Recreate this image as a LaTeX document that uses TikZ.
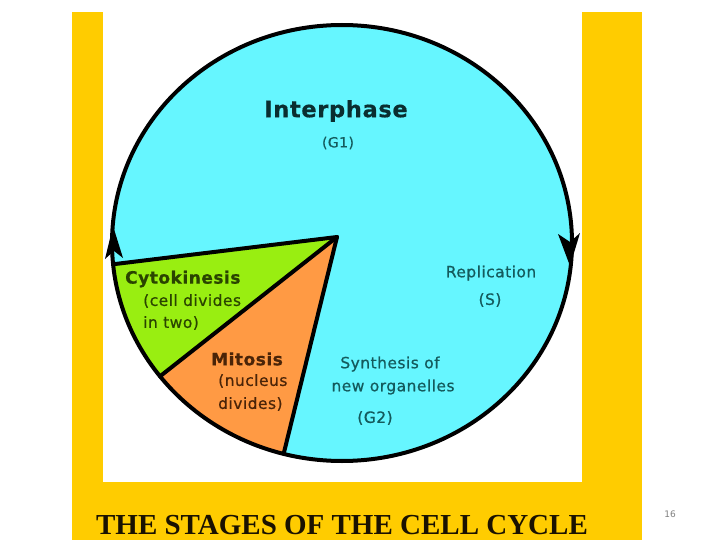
\documentclass[tikz,border=0pt]{standalone}
\usepackage{fontspec}
\setmainfont{Liberation Serif}
\newfontfamily\lblfont[FakeBold=0.6,LetterSpace=3]{DejaVu Sans}
\newfontfamily\plainfont{DejaVu Sans}
\definecolor{slideyellow}{HTML}{FFCC00}
\definecolor{cellcyan}{HTML}{66F6FF}
\definecolor{cytogreen}{HTML}{99EE11}
\definecolor{mitoorange}{HTML}{FF9A44}
\definecolor{tealtext}{HTML}{145A5C}
\definecolor{darkteal}{HTML}{0A2E30}
\definecolor{cytotext}{HTML}{2A4400}
\definecolor{mitotext}{HTML}{4A2408}
\definecolor{titletext}{HTML}{1A1200}
\tikzset{
  outline/.style={line width=4pt, line join=round, line cap=round},
  lbl/.style={inner sep=0pt, font=\lblfont\fontsize{15.5}{18}\selectfont, text=tealtext},
  boldlbl/.style={inner sep=0pt, font=\lblfont\bfseries\fontsize{17}{19}\selectfont},
  arrowhead/.style={fill=black, line join=round}
}
\begin{document}
\begin{tikzpicture}[x=1pt,y=-1pt]
\useasboundingbox (0,0) rectangle (720,540);
\fill[white] (0,0) rectangle (720,540);
% frame
\fill[slideyellow] (72,12) rectangle (642,540);
\fill[white] (103,12) rectangle (582,482);
% circle
\coordinate (C) at (342,243);
\coordinate (V) at (337,237);
\path (C) ++(174.4:230 and 218) coordinate (p1);
\path (C) ++(142.3:230 and 218) coordinate (p2);
\path (C) ++(104.7:230 and 218) coordinate (p3);
\fill[cellcyan] (C) ellipse [x radius=230, y radius=218];
\fill[cytogreen] (V) -- (p1) arc[start angle=174.4, end angle=142.3, x radius=230, y radius=218] -- cycle;
\fill[mitoorange] (V) -- (p2) arc[start angle=142.3, end angle=104.7, x radius=230, y radius=218] -- cycle;
% labels
\node[inner sep=0pt, font=\lblfont\bfseries\fontsize{22.5}{26}\selectfont, text=darkteal] (interphase) at (336,111) {Interphase};
\node[lbl, font=\lblfont\fontsize{14}{16}\selectfont] (g1) at (338,143) {(G1)};
\node[lbl] (repl) at (491,273) {Replication};
\node[lbl] (s) at (490,300) {(S)};
\node[lbl] (synth) at (390,364) {Synthesis of};
\node[lbl] (neworg) at (393,387) {new organelles};
\node[lbl] (g2) at (375,418) {(G2)};
\node[boldlbl, text=cytotext, anchor=west] (cyto) at (125,279) {Cytokinesis};
\node[lbl, text=cytotext, anchor=west] (cyto2) at (143,301) {(cell divides};
\node[lbl, text=cytotext, anchor=west] (cyto3) at (143,323) {in two)};
\node[boldlbl, text=mitotext, anchor=west] (mito) at (211,359) {Mitosis};
\node[lbl, text=mitotext, anchor=west] (mito2) at (218,381) {(nucleus};
\node[lbl, text=mitotext, anchor=west] (mito3) at (218,404) {divides)};
% outlines
\draw[outline] (p1) -- (V) -- (p3);
\draw[outline] (V) -- (p2);
\draw[outline] (C) ellipse [x radius=230, y radius=218];
% arrow heads on the cycle
\fill[arrowhead] (113,226) -- (105,259) -- (114,251) -- (123,258) -- cycle;
\fill[arrowhead] (570,266) -- (558,234) -- (570,242) -- (580,233) -- cycle;
% title and page number
\node[inner sep=0pt, font=\bfseries\fontsize{29}{32}\selectfont, text=titletext] (title) at (342,525) {THE STAGES OF THE CELL CYCLE};
\node[inner sep=0pt, font=\plainfont\fontsize{9}{10}\selectfont, text=gray] (pagenum) at (670,514) {16};
\end{tikzpicture}
\end{document}
